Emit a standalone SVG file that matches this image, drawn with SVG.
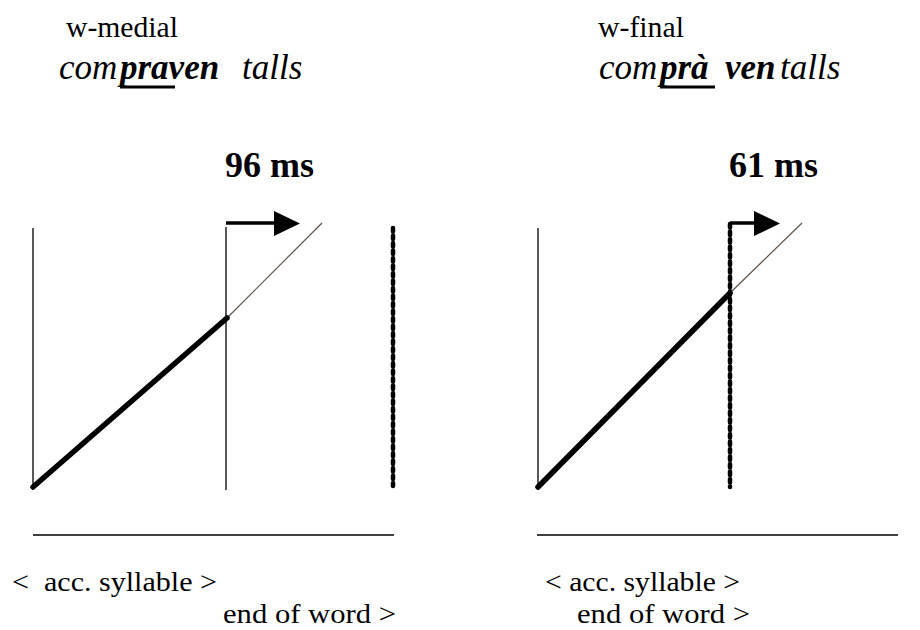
<svg xmlns="http://www.w3.org/2000/svg" width="920" height="630" viewBox="0 0 920 630">
<defs>
<style>
.t{font-family:"Liberation Serif","Times New Roman",serif;fill:#000;}
.lab{font-size:30px;}
.bot{font-size:27.5px;}
.it{font-size:35px;font-style:italic;}
.b{font-weight:bold;}
.ms{font-size:36px;font-weight:bold;}
.thin{stroke:#000;stroke-width:1.3;fill:none;}
.thick{stroke:#000;stroke-width:5.5;stroke-linecap:round;fill:none;}
.ext{stroke:#5b5149;stroke-width:1.2;fill:none;}
.dot{stroke:#000;stroke-width:4.5;stroke-linecap:round;stroke-dasharray:3.5 4;fill:none;}
.arr{stroke:#000;stroke-width:3.5;fill:none;}
.base{stroke:#000;stroke-width:1.6;fill:none;}
</style>
</defs>
<rect width="920" height="630" fill="#fff"/>
<g id="left-title">
<text class="t lab" x="66" y="37" textLength="112" lengthAdjust="spacingAndGlyphs">w-medial</text>
<text class="t it" y="79"><tspan x="59">com</tspan><tspan x="120" class="b">praven</tspan><tspan x="242">talls</tspan></text>
<rect x="120" y="85.5" width="55" height="3" fill="#000"/>
</g>
<g id="right-title">
<text class="t lab" x="598" y="37" textLength="86" lengthAdjust="spacingAndGlyphs">w-final</text>
<text class="t it" y="79"><tspan x="599">com</tspan><tspan x="660" class="b">prà</tspan><tspan x="725" class="b">ven</tspan><tspan x="780">talls</tspan></text>
<rect x="660" y="85.5" width="55" height="3" fill="#000"/>
</g>
<g id="left-panel">
<text class="t ms" x="225" y="177">96 ms</text>
<line class="thin" x1="33" y1="228" x2="33" y2="490"/>
<line class="thin" x1="226" y1="227" x2="226" y2="490"/>
<line class="dot" x1="393" y1="228" x2="393" y2="486"/>
</g>
<g id="right-panel">
<text class="t ms" x="729" y="177">61 ms</text>
<line class="thin" x1="538" y1="228" x2="538" y2="490"/>
<line class="dot" x1="730" y1="224" x2="730" y2="487"/>
</g>
<g id="connectors">
<line class="ext" x1="227" y1="318" x2="322" y2="223"/>
<line class="thick" x1="33" y1="487" x2="227" y2="318"/>
<line class="arr" x1="226" y1="223" x2="276" y2="223"/>
<polygon points="274,211 300,223.5 274,236" fill="#000"/>
<line class="ext" x1="730" y1="293" x2="802" y2="223"/>
<line class="thick" x1="538" y1="487" x2="730" y2="293"/>
<line class="arr" x1="730" y1="223" x2="756" y2="223"/>
<polygon points="754,211 780,223.5 754,236" fill="#000"/>
</g>
<g id="left-axis">
<line class="base" x1="33" y1="535" x2="394" y2="535"/>
<text class="t bot" x="12" y="591" textLength="205" lengthAdjust="spacingAndGlyphs" xml:space="preserve">&lt;  acc. syllable &gt;</text>
<text class="t bot" x="223" y="623" textLength="173" lengthAdjust="spacingAndGlyphs">end of word &gt;</text>
</g>
<g id="right-axis">
<line class="base" x1="537" y1="535" x2="898" y2="535"/>
<text class="t bot" x="545" y="591" textLength="195" lengthAdjust="spacingAndGlyphs">&lt; acc. syllable &gt;</text>
<text class="t bot" x="577" y="623" textLength="173" lengthAdjust="spacingAndGlyphs">end of word &gt;</text>
</g>
</svg>
